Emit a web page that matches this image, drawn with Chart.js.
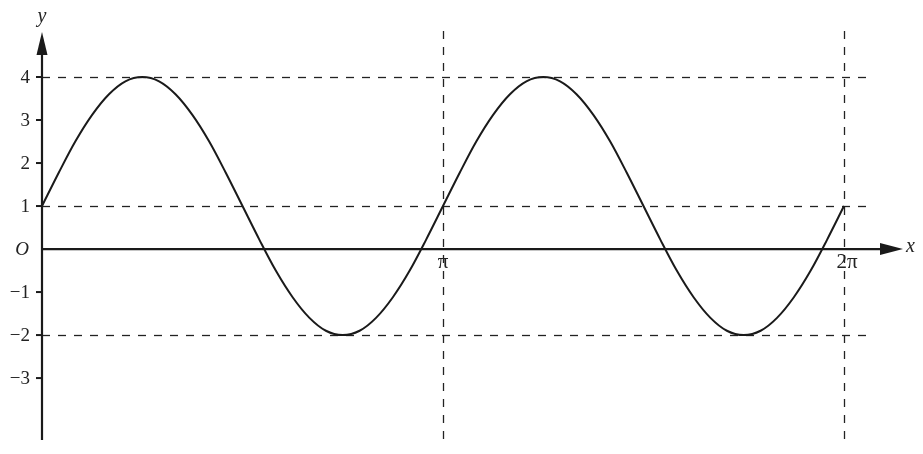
<!DOCTYPE html>
<html><head><meta charset="utf-8">
<script src="https://cdn.jsdelivr.net/npm/chart.js@4/dist/chart.umd.min.js"></script>
<style>html,body{margin:0;padding:0;background:#fff}#wrap{width:923px;height:454px}</style>
</head><body><div id="wrap"><canvas id="c" width="923" height="454"></canvas></div>
<script>
// x values in units of pi
const xsPi = [0,0.042,0.083,0.125,0.167,0.208,0.25,0.292,0.333,0.375,0.417,0.458,0.5,0.542,0.583,0.625,0.667,0.708,0.75,0.792,0.833,0.875,0.917,0.958,1,
1.042,1.083,1.125,1.167,1.208,1.25,1.292,1.333,1.375,1.417,1.458,1.5,1.542,1.583,1.625,1.667,1.708,1.75,1.792,1.833,1.875,1.917,1.958,2];
const ys = [1,1.78,2.5,3.12,3.6,3.9,4,3.9,3.6,3.12,2.5,1.78,1,0.22,-0.5,-1.12,-1.6,-1.9,-2,-1.9,-1.6,-1.12,-0.5,0.22,1,
1.78,2.5,3.12,3.6,3.9,4,3.9,3.6,3.12,2.5,1.78,1,0.22,-0.5,-1.12,-1.6,-1.9,-2,-1.9,-1.6,-1.12,-0.5,0.22,1];
const yTicks = [4,3,2,1,0,-1,-2,-3];
const yTickLabels = ['4','3','2','1','O','\u22121','\u22122','\u22123'];
const xTicks = [1,2];
const xTickLabels = ['\u03c0','2\u03c0'];
const hDashed = [4,1,-2];
const vDashed = [1,2];

const FONT = '"Liberation Serif", "DejaVu Serif", serif';

const axesPlugin = {
  id: 'axesPlugin',
  beforeDatasetsDraw(chart) {
    const ctx = chart.ctx, xs = chart.scales.x, ysc = chart.scales.y;
    ctx.save();
    ctx.strokeStyle = '#222';
    ctx.lineWidth = 1.3;
    ctx.setLineDash([8,8]);
    const x0 = xs.getPixelForValue(0);
    hDashed.forEach(v => {
      const py = Math.round(ysc.getPixelForValue(v)) + 0.5;
      ctx.beginPath(); ctx.moveTo(x0, py); ctx.lineTo(866, py); ctx.stroke();
    });
    vDashed.forEach(v => {
      const px = Math.round(xs.getPixelForValue(v)) + 0.5;
      ctx.beginPath(); ctx.moveTo(px, 31); ctx.lineTo(px, 440); ctx.stroke();
    });
    ctx.restore();
  },
  afterDatasetsDraw(chart) {
    const ctx = chart.ctx, xs = chart.scales.x, ysc = chart.scales.y;
    const x0 = xs.getPixelForValue(0), y0 = ysc.getPixelForValue(0);
    ctx.save();
    ctx.strokeStyle = '#1a1a1a'; ctx.fillStyle = '#1a1a1a';
    ctx.lineWidth = 2.2;
    ctx.setLineDash([]);
    // y axis
    ctx.beginPath(); ctx.moveTo(x0, 440); ctx.lineTo(x0, 50); ctx.stroke();
    ctx.beginPath(); ctx.moveTo(x0, 32); ctx.lineTo(x0 - 5.5, 55); ctx.lineTo(x0 + 5.5, 55); ctx.closePath(); ctx.fill();
    // x axis
    ctx.beginPath(); ctx.moveTo(x0, y0); ctx.lineTo(885, y0); ctx.stroke();
    ctx.beginPath(); ctx.moveTo(903, y0); ctx.lineTo(880, y0 - 6); ctx.lineTo(880, y0 + 6); ctx.closePath(); ctx.fill();
    // y ticks
    ctx.lineWidth = 2;
    yTicks.forEach(v => {
      if (v === 0) return;
      const py = ysc.getPixelForValue(v);
      ctx.beginPath(); ctx.moveTo(x0 - 6, py); ctx.lineTo(x0, py); ctx.stroke();
    });
    // labels
    ctx.fillStyle = '#222';
    ctx.textBaseline = 'middle';
    ctx.textAlign = 'right';
    yTicks.forEach((v, i) => {
      const py = ysc.getPixelForValue(v);
      ctx.font = (v === 0 ? 'italic ' : '') + '19px ' + FONT;
      ctx.fillText(yTickLabels[i], v === 0 ? 29 : 30, py + 1);
    });
    ctx.textAlign = 'center';
    ctx.font = '21px ' + FONT;
    xTicks.forEach((v, i) => {
      const px = xs.getPixelForValue(v);
      ctx.fillText(xTickLabels[i], px + (i === 1 ? 3 : 0), y0 + 13);
    });
    ctx.font = 'italic 20px ' + FONT;
    ctx.fillText('y', x0, 17);
    ctx.textAlign = 'left';
    ctx.fillText('x', 906, y0 - 2);
    ctx.restore();
  }
};

new Chart(document.getElementById('c'), {
  type: 'line',
  data: {
    datasets: [{
      data: xsPi.map((x, i) => ({x: x, y: ys[i]})),
      borderColor: '#1a1a1a',
      borderWidth: 2,
      pointRadius: 0,
      fill: false,
      cubicInterpolationMode: 'monotone'
    }]
  },
  options: {
    responsive: false,
    animation: false,
    events: [],
    layout: { padding: { left: 42, right: 23, top: 35, bottom: 14 } },
    plugins: { legend: { display: false }, tooltip: { enabled: false } },
    scales: {
      x: { type: 'linear', min: 0, max: 2.1397, display: false },
      y: { type: 'linear', min: -4.44, max: 4.977, display: false }
    }
  },
  plugins: [axesPlugin]
});
</script></body></html>
